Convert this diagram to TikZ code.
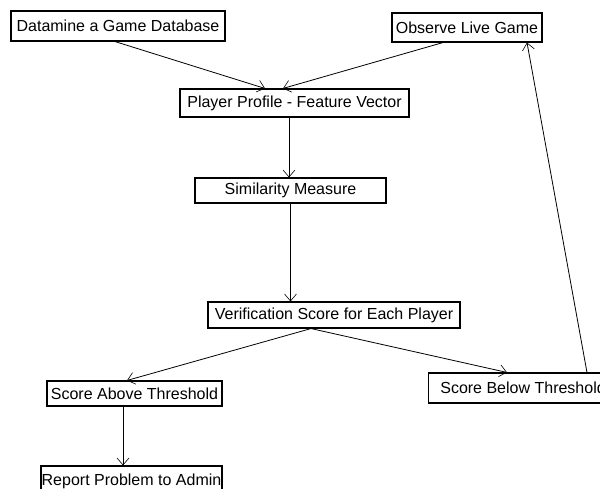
\documentclass[tikz,border=0pt]{standalone}
\usepackage{fontspec}
\setmainfont{Liberation Sans}
\usetikzlibrary{arrows.meta,calc}
\begin{document}
\begin{tikzpicture}[x=1pt,y=-1pt,
  box/.style={draw=black,line width=1.1pt,fill=white,inner sep=0pt,font=\fontsize{16}{19}\selectfont},
  conn/.style={draw=black,line width=0.8pt,-{Straight Barb[length=7pt,width=12pt,line width=0.6pt]}}]
\useasboundingbox (0,0) rectangle (600,489);
\clip (0,0) rectangle (600,489);
\fill[white] (0,0) rectangle (600,489);
\node[box,minimum width=214pt,minimum height=30pt] (dm) at (118,26) {Datamine a Game Database};
\node[box,minimum width=150pt,minimum height=29pt] (obs) at (467,27.5) {Observe Live Game};
\node[box,minimum width=229pt,minimum height=28pt] (pp) at (294.5,103) {Player Profile - Feature Vector};
\node[box,minimum width=191pt,minimum height=25pt] (sim) at (290.5,190.5) {Similarity Measure};
\node[box,minimum width=252pt,minimum height=26pt] (ver) at (334,315) {Verification Score for Each Player};
\node[box,minimum width=175pt,minimum height=25pt] (above) at (134.5,393.5) {Score Above Threshold};
\node[box,minimum width=181pt,minimum height=30pt] (report) at (131.5,481) {Report Problem to Admin};
\node[box,minimum width=184pt,minimum height=30pt,anchor=west] (below) at (428,388) {\hspace*{5pt}Score Below Threshold\hfill};
\draw[conn] ($(dm.south)+(-3,0)$) -- ($(pp.north)+(-29.5,0)$);
\draw[conn] ($(obs.south)+(-24,0)$) -- ($(pp.north)+(-11.5,0)$);
\draw[conn] ($(pp.south)+(-5.5,0)$) -- ($(sim.north)+(-1.5,0)$);
\draw[conn] (sim.south) -- (sim.south |- ver.north);
\draw[conn] ($(ver.south)+(-23,0)$) -- ($(above.north)+(-7.5,0)$);
\draw[conn] ($(ver.south)+(-23,0)$) -- ($(below.north west)+(79,0)$);
\draw[conn] ($(below.north west)+(159,0)$) -- ($(obs.south)+(60,0)$);
\draw[conn] ($(above.south)+(-11.5,0)$) -- ($(report.north)+(-8.5,0)$);
\end{tikzpicture}
\end{document}
